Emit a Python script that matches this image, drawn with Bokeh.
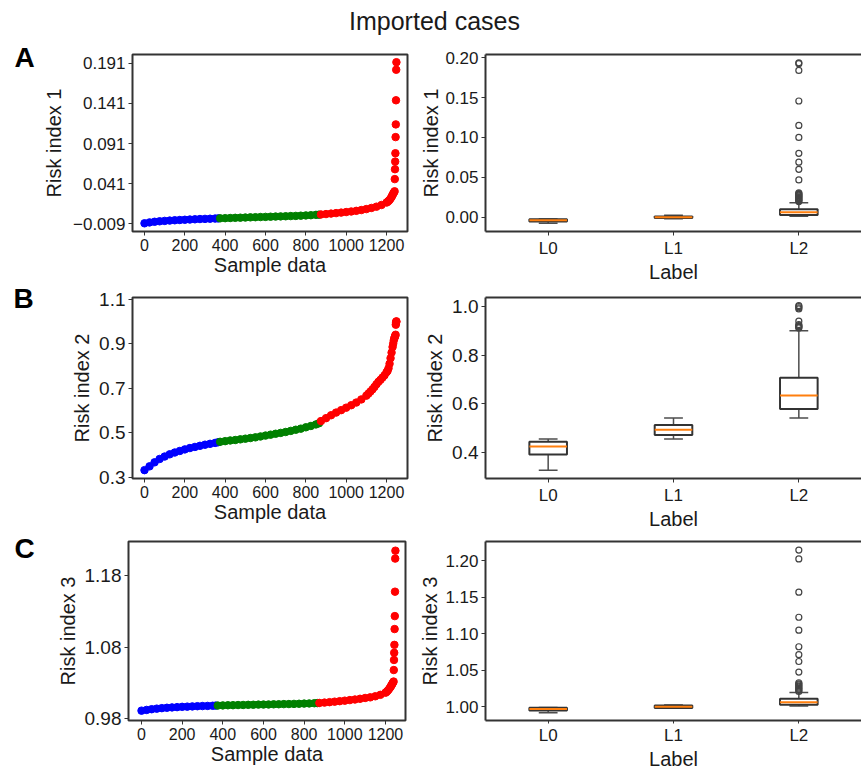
import numpy as np
from bokeh.plotting import figure
from bokeh.models import Range1d, FixedTicker, Label, NumeralTickFormatter, LinearAxis
from bokeh.layouts import column, row
from bokeh.embed import file_html
from bokeh.resources import INLINE

# ---------------- data ----------------
title_text = "Imported cases"
panel_letters = ["A", "B", "C"]
y_titles = ["Risk index 1", "Risk index 2", "Risk index 3"]
x_title_left = "Sample data"
x_title_right = "Label"
labels = ["L0", "L1", "L2"]
sample_ticks = [0, 200, 400, 600, 800, 1000, 1200]

blue_x = [0, 25, 50, 75, 100, 125, 150, 175, 200, 225, 250, 275, 300, 325, 350, 365]
green_x = [375, 400, 425, 450, 475, 500, 525, 550, 575, 600, 625, 650, 675, 700,
           725, 750, 775, 800, 825, 850, 865]
red_x_ac = [875, 900, 925, 950, 975, 1000, 1025, 1050, 1075, 1100, 1125, 1150, 1175, 1200,
            1205, 1210, 1215, 1220, 1225, 1228, 1231, 1234, 1237, 1240,
            1241, 1242, 1243, 1244, 1245, 1246, 1247, 1248, 1249]
red_x_b = [875, 900, 925, 950, 975, 1000, 1025, 1050, 1075, 1100,
           1110, 1120, 1130, 1140, 1150, 1160, 1170, 1180, 1190, 1200,
           1205, 1210, 1215, 1220, 1225, 1230, 1233, 1236, 1239, 1241, 1243, 1245,
           1246, 1247, 1248, 1249]

# Risk index 1
r1_blue = [-0.0083, -0.0072, -0.0064, -0.0058, -0.0053, -0.0049, -0.0045, -0.0042, -0.0039,
           -0.0036, -0.0033, -0.0030, -0.0028, -0.0026, -0.0024, -0.0022]
r1_green = [-0.0021, -0.0019, -0.0017, -0.0015, -0.0013, -0.0011, -0.0009, -0.0007, -0.0005,
            -0.0003, -0.0001, 0.0001, 0.0003, 0.0005, 0.0007, 0.0009, 0.0012, 0.0015, 0.0018,
            0.0022, 0.0025]
r1_red = [0.0027, 0.0032, 0.0038, 0.0044, 0.0050, 0.0057, 0.0064, 0.0072, 0.0082, 0.0094,
          0.0108, 0.0124, 0.0145, 0.0175,
          0.0184, 0.0195, 0.0208, 0.0225, 0.0245, 0.0260, 0.0275, 0.0290, 0.0302, 0.0315,
          0.0467, 0.0590, 0.0685, 0.0789, 0.0990, 0.1148, 0.1448, 0.1828, 0.1922]
r1_yticks = [-0.009, 0.041, 0.091, 0.141, 0.191]

# Risk index 2
r2_blue = [0.333, 0.350, 0.368, 0.383, 0.394, 0.404, 0.412, 0.419, 0.426, 0.432, 0.437,
           0.442, 0.447, 0.451, 0.455, 0.458]
r2_green = [0.460, 0.463, 0.466, 0.468, 0.471, 0.474, 0.477, 0.480, 0.484, 0.488, 0.492,
            0.496, 0.500, 0.504, 0.509, 0.514, 0.519, 0.525, 0.531, 0.538, 0.543]
r2_red = [0.553, 0.566, 0.579, 0.591, 0.602, 0.613, 0.624, 0.636, 0.650, 0.667,
          0.676, 0.685, 0.695, 0.706, 0.718, 0.729, 0.738, 0.748, 0.758, 0.772,
          0.778, 0.790, 0.810, 0.835, 0.860, 0.885, 0.900, 0.915, 0.925, 0.930, 0.935, 0.940,
          0.985, 0.993, 0.998, 1.000]
r2_yticks = [0.3, 0.5, 0.7, 0.9, 1.1]

# Risk index 3
r3_blue = [0.9915, 0.9925, 0.9935, 0.9943, 0.9950, 0.9955, 0.9960, 0.9964, 0.9968, 0.9971,
           0.9974, 0.9977, 0.9979, 0.9981, 0.9983, 0.9985]
r3_green = [0.9986, 0.9988, 0.9990, 0.9991, 0.9993, 0.9994, 0.9996, 0.9997, 0.9999, 1.0000,
            1.0001, 1.0003, 1.0004, 1.0006, 1.0007, 1.0009, 1.0011, 1.0013, 1.0015, 1.0018,
            1.0020]
r3_red = [1.0022, 1.0027, 1.0033, 1.0040, 1.0047, 1.0054, 1.0062, 1.0070, 1.0080, 1.0091,
          1.0100, 1.0115, 1.0135, 1.0165,
          1.0175, 1.0190, 1.0205, 1.0225, 1.0245, 1.0260, 1.0275, 1.0290, 1.0305, 1.0320,
          1.048, 1.062, 1.072, 1.083, 1.105, 1.123, 1.157, 1.203, 1.214]
r3_yticks = [0.98, 1.08, 1.18]

# box statistics per label (L0, L1, L2)
b1_wlo = [-0.0078, -0.0021, 0.0012]
b1_q1 = [-0.0055, -0.0012, 0.0028]
b1_med = [-0.0040, -0.0002, 0.0060]
b1_q3 = [-0.0025, 0.0008, 0.0099]
b1_whi = [-0.0022, 0.0025, 0.0180]
b1_out_l2 = [0.0195, 0.0205, 0.0215, 0.0225, 0.0235, 0.0245, 0.0255, 0.0265, 0.0275,
             0.0285, 0.0295, 0.0305, 0.0467, 0.0600, 0.0690, 0.0800, 0.1000, 0.1150,
             0.1457, 0.1840, 0.1925, 0.1935]
b1_yticks = [0.00, 0.05, 0.10, 0.15, 0.20]

b2_wlo = [0.3275, 0.4557, 0.5425]
b2_q1 = [0.3925, 0.4730, 0.5790]
b2_med = [0.4255, 0.4940, 0.6350]
b2_q3 = [0.4450, 0.5140, 0.7080]
b2_whi = [0.4557, 0.5425, 0.9000]
b2_out_l2 = [0.912, 0.915, 0.918, 0.922, 0.926, 0.940, 0.990, 0.995, 1.000, 1.004]
b2_yticks = [0.4, 0.6, 0.8, 1.0]

b3_wlo = [0.9920, 0.9980, 1.0013]
b3_q1 = [0.9950, 0.9985, 1.0030]
b3_med = [0.9970, 1.0003, 1.0065]
b3_q3 = [0.9988, 1.0020, 1.0110]
b3_whi = [0.9990, 1.0025, 1.0195]
b3_out_l2 = [1.021, 1.0225, 1.024, 1.0255, 1.027, 1.0285, 1.030, 1.0315, 1.033,
             1.0476, 1.062, 1.0714, 1.0822, 1.1048, 1.1225, 1.1567, 1.2022, 1.2143]
b3_yticks = [1.00, 1.05, 1.10, 1.15, 1.20]

# ---------------- style ----------------
FONT = "Liberation Sans"
TXT = "#1a1a1a"
EDGE = "#333333"
PAGE_W = 861
PAGE_H = 772
TITLE_H = 36
LETTER_W = 40
LEFT_W = 370
RIGHT_W = PAGE_W - LETTER_W - LEFT_W
DOT = 7.5


def style_axis(ax, tick_px, label_px=20, label_standoff=0, tick_out=4, lab_standoff=3):
    ax.major_label_text_font = FONT
    ax.major_label_text_font_size = f"{tick_px}px"
    ax.major_label_text_color = TXT
    ax.axis_label_text_font = FONT
    ax.axis_label_text_font_size = f"{label_px}px"
    ax.axis_label_text_font_style = "normal"
    ax.axis_label_text_color = TXT
    ax.axis_label_standoff = label_standoff
    ax.minor_tick_line_color = None
    ax.major_tick_in = 0
    ax.major_tick_out = tick_out
    ax.major_tick_line_color = EDGE
    ax.major_tick_line_width = 1
    ax.major_label_standoff = lab_standoff


def left_panel(ylabel, bl, gr, rx, rd, yticks, fmt, xr, yr, height, mbl, mbr, mbt, mbb,
               ytick_px, ylab_standoff, overrides=None):
    p = figure(width=LEFT_W, height=height, x_range=Range1d(*xr), y_range=Range1d(*yr),
               output_backend="svg", toolbar_location=None,
               min_border_left=mbl, min_border_right=mbr, min_border_top=mbt, min_border_bottom=mbb)
    p.grid.visible = False
    p.outline_line_color = EDGE
    p.outline_line_width = 2
    p.scatter(blue_x, bl, size=DOT, color="blue")
    p.scatter(green_x, gr, size=DOT, color="green")
    p.scatter(rx, rd, size=DOT, color="red")
    p.xaxis.ticker = FixedTicker(ticks=sample_ticks)
    p.yaxis.ticker = FixedTicker(ticks=yticks)
    p.yaxis.formatter = NumeralTickFormatter(format=fmt)
    if overrides:
        p.yaxis.major_label_overrides = overrides
    p.xaxis.axis_label = x_title_left
    p.yaxis.axis_label = ylabel
    for ax in p.xaxis:
        style_axis(ax, 16, label_standoff=0)
        ax.axis_line_color = None
    for ax in p.yaxis:
        style_axis(ax, ytick_px, label_standoff=ylab_standoff)
        ax.axis_line_color = None
    return p


def right_panel(ylabel, wlo, q1, med, q3, whi, outl, yticks, fmt, yr, height, mbt, mbb,
                ytick_px, ylab_standoff, tick_out=4, lab_standoff=3):
    p = figure(width=RIGHT_W, height=height, x_range=Range1d(0.5, 3.5), y_range=Range1d(*yr),
               output_backend="svg", toolbar_location=None,
               min_border_left=75, min_border_right=0, min_border_top=mbt, min_border_bottom=mbb)
    p.grid.visible = False
    p.outline_line_color = None
    pos = np.arange(1, len(labels) + 1, dtype=float)
    half = 0.15
    cap = 0.075
    wcol = "#4d4d4d"
    p.segment(x0=pos, y0=q3, x1=pos, y1=whi, line_color=wcol, line_width=1.5)
    p.segment(x0=pos, y0=q1, x1=pos, y1=wlo, line_color=wcol, line_width=1.5)
    p.segment(x0=pos - cap, y0=whi, x1=pos + cap, y1=whi, line_color=wcol, line_width=1.5)
    p.segment(x0=pos - cap, y0=wlo, x1=pos + cap, y1=wlo, line_color=wcol, line_width=1.5)
    p.quad(left=pos - half, right=pos + half, bottom=q1, top=q3, fill_color="white",
           line_color=EDGE, line_width=2)
    p.segment(x0=pos - half, y0=med, x1=pos + half, y1=med, line_color="#ff7f0e", line_width=2)
    p.scatter(x=[pos[2]] * len(outl), y=outl, marker="circle", size=6, fill_color=None,
              line_color="#444444", line_width=1.2)
    p.xaxis.ticker = FixedTicker(ticks=list(pos))
    p.xaxis.major_label_overrides = {int(k): lab for k, lab in zip(pos, labels)}
    p.yaxis.ticker = FixedTicker(ticks=yticks)
    p.yaxis.formatter = NumeralTickFormatter(format=fmt)
    p.xaxis.axis_label = x_title_right
    p.yaxis.axis_label = ylabel
    for ax in p.xaxis:
        style_axis(ax, 17, label_standoff=0, tick_out=tick_out, lab_standoff=lab_standoff)
        ax.axis_line_color = EDGE
        ax.axis_line_width = 2
    for ax in p.yaxis:
        style_axis(ax, ytick_px, label_standoff=ylab_standoff)
        ax.axis_line_color = EDGE
        ax.axis_line_width = 2
    top = LinearAxis(major_tick_line_color=None, minor_tick_line_color=None,
                     major_label_text_font_size="0px", axis_line_color=EDGE, axis_line_width=2,
                     major_tick_out=0, major_tick_in=0, major_label_standoff=0)
    top.ticker = FixedTicker(ticks=[])
    p.add_layout(top, "above")
    return p


# title strip
tfig = figure(width=PAGE_W, height=TITLE_H, x_range=Range1d(0, PAGE_W), y_range=Range1d(0, TITLE_H),
              output_backend="svg", toolbar_location=None, x_axis_type=None, y_axis_type=None,
              min_border=0)
tfig.grid.visible = False
tfig.outline_line_color = None
tfig.add_layout(Label(x=434, y=16, text=title_text, text_font=FONT, text_font_size="25px",
                      text_color=TXT, text_align="center", text_baseline="middle"))

# letter strip (one tall figure down the left edge)
STRIP_H = PAGE_H - TITLE_H
kfig = figure(width=LETTER_W, height=STRIP_H, x_range=Range1d(0, LETTER_W),
              y_range=Range1d(0, STRIP_H), output_backend="svg", toolbar_location=None,
              x_axis_type=None, y_axis_type=None, min_border=0)
kfig.grid.visible = False
kfig.outline_line_color = None
letter_page_pos = [(24, 57), (23, 298), (24, 548)]
for letter, (lx, ly) in zip(panel_letters, letter_page_pos):
    kfig.add_layout(Label(x=lx, y=STRIP_H - (ly - TITLE_H), text=letter, text_font=FONT,
                          text_font_style="bold", text_font_size="28px", text_color="black",
                          text_align="center", text_baseline="middle"))

ROW_A, ROW_B, ROW_C = 254, 245, 237

lA = left_panel(y_titles[0], r1_blue, r1_green, red_x_ac, r1_red, r1_yticks,
                "0.000", (-59.5, 1304), (-0.0185, 0.2018), ROW_A, 132 - LETTER_W, 3, 17, 59, 17, 5,
                overrides={-0.009: "\u22120.009"})
rA = right_panel(y_titles[0], b1_wlo, b1_q1, b1_med, b1_q3, b1_whi, b1_out_l2, b1_yticks, "0.00",
                 (-0.018, 0.204), ROW_A, 18, 51, 17, 0)

lB = left_panel(y_titles[1], r2_blue, r2_green, red_x_b, r2_red, r2_yticks,
                "0.0", (-59.5, 1304), (0.2955, 1.107), ROW_B, 132 - LETTER_W, 3, 7, 57, 19, 3)
rB = right_panel(y_titles[1], b2_wlo, b2_q1, b2_med, b2_q3, b2_whi, b2_out_l2, b2_yticks, "0.0",
                 (0.294, 1.037), ROW_B, 6, 53, 19, 3)

lC = left_panel(y_titles[2], r3_blue, r3_green, red_x_ac, r3_red, r3_yticks,
                "0.00", (-64, 1298.6), (0.9778, 1.2268), ROW_C, 128 - LETTER_W, 5, 6, 49, 19, 3)
rC = right_panel(y_titles[2], b3_wlo, b3_q1, b3_med, b3_q3, b3_whi, b3_out_l2, b3_yticks, "0.00",
                 (0.9814, 1.226), ROW_C, 6, 43, 17, 1, tick_out=3, lab_standoff=2)

grid = column(row(lA, rA, spacing=0), row(lB, rB, spacing=0), row(lC, rC, spacing=0), spacing=0)
layout = column(tfig, row(kfig, grid, spacing=0), spacing=0)

open("out.html", "w").write(file_html(layout, INLINE, title_text))
